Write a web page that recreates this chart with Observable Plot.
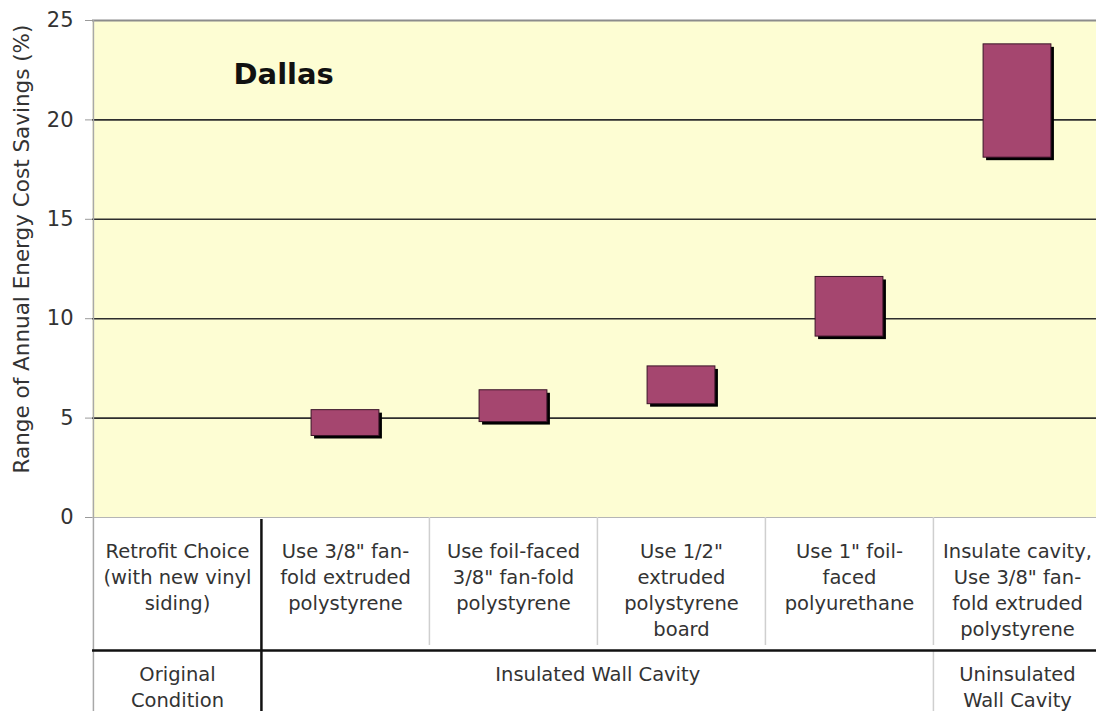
<!DOCTYPE html>
<html>
<head>
<meta charset="utf-8">
<script src="https://cdn.jsdelivr.net/npm/d3@7"></script>
<script src="https://cdn.jsdelivr.net/npm/@observablehq/plot@0.6"></script>
<style>
  html, body { margin: 0; padding: 0; background: #fff; }
  #chart svg { display: block; }
</style>
</head>
<body>
<div id="chart"></div>
<script>
// ---- data ----
const categories = [
  "Retrofit Choice (with new vinyl siding)",
  "Use 3/8\" fan-fold extruded polystyrene",
  "Use foil-faced 3/8\" fan-fold polystyrene",
  "Use 1/2\" extruded polystyrene board",
  "Use 1\" foil-faced polyurethane",
  "Insulate cavity, Use 3/8\" fan-fold extruded polystyrene"
];
const categoryLabels = [
  "Retrofit Choice\n(with new vinyl\nsiding)",
  "Use 3/8\" fan-\nfold extruded\npolystyrene",
  "Use foil-faced\n3/8\" fan-fold\npolystyrene",
  "Use 1/2\"\nextruded\npolystyrene\nboard",
  "Use 1\" foil-\nfaced\npolyurethane",
  "Insulate cavity,\nUse 3/8\" fan-\nfold extruded\npolystyrene"
];
const savingsLow  = [null, 4.1, 4.8, 5.7, 9.1, 18.1];
const savingsHigh = [null, 5.4, 6.4, 7.6, 12.1, 23.8];
const conditions = ["Original\nCondition", "Insulated Wall Cavity", "Uninsulated\nWall Cavity"];
const conditionStart = [0, 1, 5];
const conditionSpan = [1, 4, 1];
const yTicks = [0, 5, 10, 15, 20, 25];
const cityTitle = "Dallas";
const yTitle = "Range of Annual Energy Cost Savings (%)";

// ---- layout ----
const W = 1096, H = 711;
const mTop = 20, mBottom = 194, mLeft = 92;
const xRange = [mLeft, 1101];
const xOpts = {type: "band", domain: categories, range: xRange, padding: 0, axis: null};
const yOpts = {domain: [0, 25], range: [H - mBottom, mTop]};
const xs = Plot.scale({x: xOpts});
const ys = Plot.scale({y: yOpts});
const bw = xs.bandwidth;
const yAt = px => ys.invert(px);

const bars = categories.map((c, i) => ({c, lo: savingsLow[i], hi: savingsHigh[i]})).filter(d => d.lo != null);

const font = "DejaVu Sans, Verdana, sans-serif";
const inset = (bw - 68) / 2;
const tableFont = 19.5;
const tableLH = 26 / tableFont;

const conditionMarks = conditions.map((t, i) => Plot.text([t], {
  x: () => categories[conditionStart[i]],
  y: () => 0,
  dx: (conditionSpan[i] - 1) * bw / 2,
  dy: 145,
  text: d => d,
  lineAnchor: "top",
  lineHeight: tableLH,
  fontSize: tableFont,
  fill: "#333"
}));

const chart = Plot.plot({
  width: W,
  height: H,
  marginTop: mTop,
  marginBottom: mBottom,
  marginLeft: mLeft,
  marginRight: 0,
  style: {fontFamily: font, background: "#fff", overflow: "visible"},
  x: xOpts,
  y: {...yOpts, axis: null},
  marks: [
    Plot.frame({fill: "#fdfdd3", stroke: null}),
    Plot.ruleY([5, 10, 15, 20], {stroke: "#2e2e2e", strokeWidth: 1.6}),
    Plot.ruleY([25], {stroke: "#8c8c8c", strokeWidth: 2}),
    Plot.ruleY([0], {stroke: "#b5b5b5", strokeWidth: 1.2}),
    Plot.ruleX([categories[0]], {dx: -bw / 2, y1: () => 25, y2: () => yAt(H), stroke: "#a8a8a8", strokeWidth: 1.5}),
    Plot.axisY({ticks: yTicks, tickSize: 7, tickPadding: 12, fontSize: 21, stroke: "#9a9a9a", fill: "#333", label: null}),
    // bar shadows
    Plot.rectY(bars, {x: "c", y1: "lo", y2: "hi", fill: "#000", insetLeft: inset, insetRight: inset, dx: 3, dy: 3}),
    // bars
    Plot.rectY(bars, {x: "c", y1: "lo", y2: "hi", fill: "#a5466f", stroke: "#3a1428", strokeWidth: 1, insetLeft: inset, insetRight: inset}),
    // table separators
    Plot.ruleX(categories.slice(2), {dx: -bw / 2, y1: () => 0, y2: () => yAt(645), stroke: "#cfcfcf", strokeWidth: 1.5}),
    Plot.ruleX([categories[5]], {dx: -bw / 2, y1: () => yAt(651), y2: () => yAt(H), stroke: "#cfcfcf", strokeWidth: 1.5}),
    Plot.ruleY([yAt(650)], {stroke: "#111", strokeWidth: 2.5}),
    Plot.ruleX([categories[1]], {dx: -bw / 2, y1: () => yAt(519), y2: () => yAt(H), stroke: "#111", strokeWidth: 2.5}),
    // table text
    Plot.text(categories, {
      x: d => d, y: () => 0, dy: 22,
      text: (d, i) => categoryLabels[i],
      lineAnchor: "top", lineHeight: tableLH, fontSize: tableFont, fill: "#333"
    }),
    ...conditionMarks,
    // titles
    Plot.text([cityTitle], {frameAnchor: "top-left", dx: 141, dy: 54, text: d => d, textAnchor: "start", lineAnchor: "middle", fontSize: 29, fontWeight: "bold", fill: "#111"}),
    Plot.text([yTitle], {frameAnchor: "left", dx: -70, dy: -20, text: d => d, textAnchor: "middle", lineAnchor: "middle", rotate: -90, fontSize: 21.5, fill: "#333"})
  ]
});
document.getElementById("chart").appendChild(chart);
</script>
</body>
</html>
